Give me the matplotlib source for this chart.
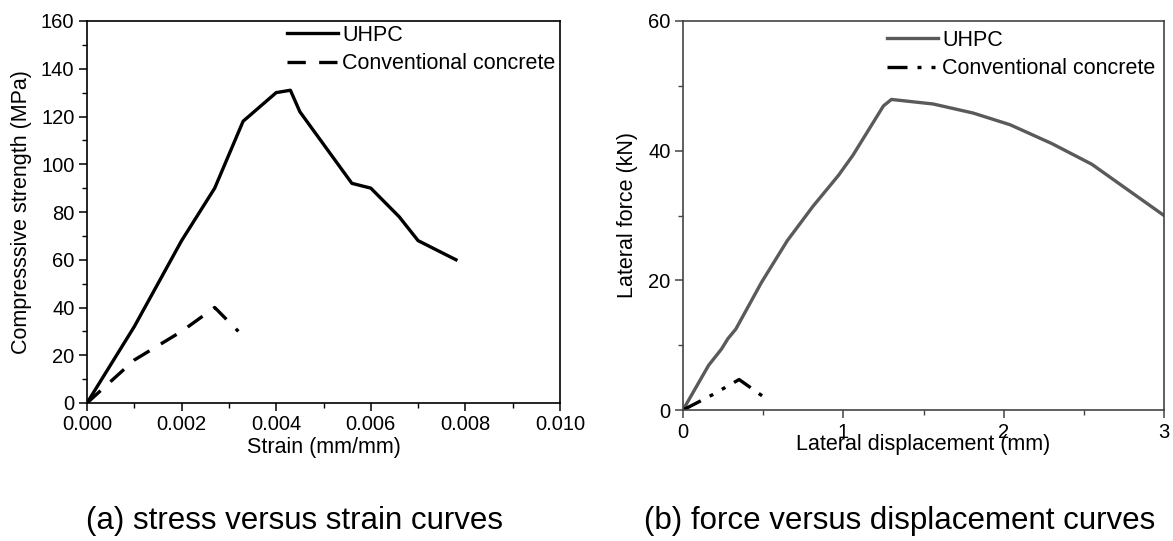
"""Stress-strain and force-displacement curves, UHPC vs conventional concrete."""

import matplotlib.pyplot as plt
from matplotlib.ticker import MultipleLocator

plt.rcParams["font.family"] = ["Liberation Sans", "DejaVu Sans"]

# (a) stress vs strain
strain_uhpc = [0.0, 0.001, 0.002, 0.0027, 0.0033, 0.0040, 0.0043, 0.0045,
               0.0056, 0.0060, 0.0066, 0.0070, 0.0078]
stress_uhpc = [0, 32, 68, 90, 118, 130, 131, 122, 92, 90, 78, 68, 60]
strain_cc = [0.0, 0.0005, 0.001, 0.002, 0.0027, 0.0032]
stress_cc = [0, 9, 18, 30, 40, 30]

# (b) force vs displacement
disp_uhpc = [0.0, 0.16, 0.24, 0.28, 0.33, 0.49, 0.65, 0.81, 0.97, 1.06,
             1.25, 1.30, 1.56, 1.81, 2.04, 2.30, 2.55, 3.0]
force_uhpc = [0, 6.9, 9.4, 11.0, 12.5, 19.7, 26.1, 31.4, 36.2, 39.3,
              46.9, 47.9, 47.2, 45.8, 44.0, 41.1, 37.9, 30.0]
disp_cc = [0.0, 0.18, 0.35, 0.51]
force_cc = [0, 2.3, 4.7, 1.9]

W, H = 1173, 541
fig = plt.figure(figsize=(W / 100, H / 100), dpi=100)

ax1 = fig.add_axes([87 / W, 1 - 403 / H, 473 / W, 382 / H])
ax1.plot(strain_uhpc, stress_uhpc, color="black", lw=2.4, label="UHPC")
ax1.plot(strain_cc, stress_cc, color="black", lw=2.4, dashes=(5.5, 4),
         label="Conventional concrete")
ax1.set_xlim(0, 0.010)
ax1.set_ylim(0, 160)
ax1.xaxis.set_major_locator(MultipleLocator(0.002))
ax1.xaxis.set_minor_locator(MultipleLocator(0.001))
ax1.yaxis.set_major_locator(MultipleLocator(20))
ax1.yaxis.set_minor_locator(MultipleLocator(10))
ax1.xaxis.set_major_formatter(lambda v, p: f"{v:.3f}")
ax1.set_xlabel("Strain (mm/mm)", fontsize=15.5)
ax1.set_ylabel("Compresssive strength (MPa)", fontsize=15.5)
ax1.xaxis.set_label_coords(0.5, -0.088)
ax1.yaxis.set_label_coords(-0.117, 0.5)
ax1.legend(loc="upper left", bbox_to_anchor=(0.423, 0.99), frameon=False,
           fontsize=15.5, handlelength=2.35, handletextpad=0.2,
           labelspacing=0.35, borderaxespad=0, borderpad=0)

ax2 = fig.add_axes([683 / W, 1 - 410 / H, 481 / W, 389 / H])
ax2.plot(disp_uhpc, force_uhpc, color="#5a5a5a", lw=2.4, label="UHPC")
ax2.plot(disp_cc, force_cc, color="black", lw=2.4,
         dashes=(6, 3, 1.2, 3, 1.2, 3), label="Conventional concrete")
ax2.set_xlim(0, 3)
ax2.set_ylim(0, 60)
ax2.xaxis.set_major_locator(MultipleLocator(1))
ax2.xaxis.set_minor_locator(MultipleLocator(0.5))
ax2.yaxis.set_major_locator(MultipleLocator(20))
ax2.yaxis.set_minor_locator(MultipleLocator(10))
ax2.set_xlabel("Lateral displacement (mm)", fontsize=15.5)
ax2.set_ylabel("Lateral force (kN)", fontsize=15.5)
ax2.xaxis.set_label_coords(0.5, -0.062)
ax2.yaxis.set_label_coords(-0.094, 0.5)
ax2.legend(loc="upper left", bbox_to_anchor=(0.425, 0.978), frameon=False,
           fontsize=15.5, handlelength=2.35, handletextpad=0.2,
           labelspacing=0.35, borderaxespad=0, borderpad=0)

for ax, col in ((ax1, "black"), (ax2, "#444444")):
    for s in ax.spines.values():
        s.set_color(col)
        s.set_linewidth(1.2)
    ax.tick_params(which="major", length=6, width=1.1, labelsize=14.5,
                   color=col, pad=3)
    ax.tick_params(which="minor", length=3.5, width=1.0, color=col)

fig.text(294 / W, 1 - 521 / H, "(a) stress versus strain curves",
         fontsize=22.5, ha="center", va="center")
fig.text(900 / W, 1 - 521 / H, "(b) force versus displacement curves",
         fontsize=22.5, ha="center", va="center")

fig.savefig("out.png", dpi=100)
